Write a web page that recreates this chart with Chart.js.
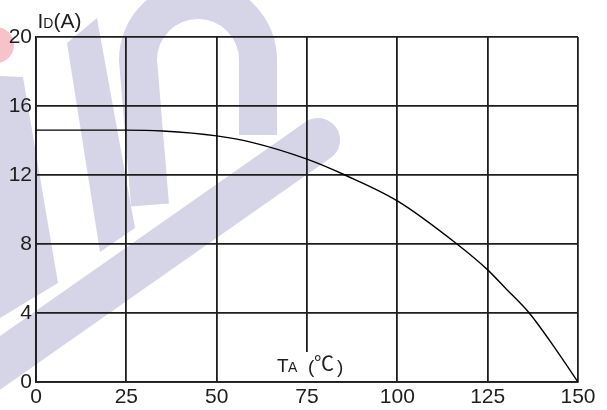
<!DOCTYPE html>
<html>
<head>
<meta charset="utf-8">
<script src="https://cdn.jsdelivr.net/npm/chart.js@4"></script>
<style>
  body { margin: 0; background: #fff; }
  #box { width: 607px; height: 410px; }
</style>
</head>
<body>
<div id="box"><canvas id="derating-chart"></canvas></div>
<script>
// ambient temperature (C) and drain current (A)
const tempC = [0, 25, 35, 50, 60, 75, 85.5, 100, 116.5, 125, 130, 136.5, 144, 150];
const currentA = [14.6, 14.6, 14.55, 14.27, 13.88, 12.92, 12.0, 10.5, 8.0, 6.5, 5.42, 4.0, 1.85, 0];
const xTicks = [0, 25, 50, 75, 100, 125, 150];
const yTicks = [0, 4, 8, 12, 16, 20];

const ink = "#1e1e1e";
const lav = "#d5d5e7";
const sans = "'Liberation Sans', Arial, sans-serif";

// faint logo in the background
const watermark = {
    id: "watermark",
    beforeDraw(chart) {
        const ctx = chart.ctx;
        ctx.save();
        ctx.fillStyle = "#fff";
        ctx.fillRect(0, 0, chart.width, chart.height);

        ctx.fillStyle = "#f6c3ca";
        ctx.beginPath();
        ctx.arc(-4, 45, 18, 0, Math.PI * 2);
        ctx.fill();

        ctx.fillStyle = lav;
        ctx.beginPath();
        ctx.moveTo(-20, 75); ctx.lineTo(23, 77); ctx.lineTo(58, 283); ctx.lineTo(-20, 330);
        ctx.closePath();
        ctx.fill();

        ctx.beginPath();
        ctx.moveTo(67, 43); ctx.lineTo(97, 18); ctx.lineTo(135, 228); ctx.lineTo(100, 252);
        ctx.closePath();
        ctx.fill();

        ctx.strokeStyle = lav;
        ctx.lineWidth = 44;
        ctx.lineCap = "round";
        ctx.beginPath();
        ctx.moveTo(-40, 391); ctx.lineTo(318, 140);
        ctx.stroke();

        ctx.lineWidth = 38;
        ctx.lineCap = "butt";
        ctx.beginPath();
        ctx.moveTo(150, 205);
        ctx.lineTo(138, 60);
        ctx.arc(198, 60, 60, Math.PI, Math.PI * 2);
        ctx.lineTo(258, 135);
        ctx.stroke();
        ctx.restore();
    }
};

// axis titles with small subscript letters
const axisTitles = {
    id: "axisTitles",
    afterDatasetsDraw(chart) {
        const ctx = chart.ctx;
        const x = chart.scales.x;
        const area = chart.chartArea;
        ctx.save();
        ctx.fillStyle = ink;
        ctx.textBaseline = "alphabetic";
        ctx.textAlign = "left";

        let px = area.left + 1.5;
        ctx.font = "21px " + sans;
        ctx.fillText("I", px, 28);
        px += ctx.measureText("I").width;
        ctx.font = "14px " + sans;
        ctx.fillText("D", px, 28);
        px += ctx.measureText("D").width;
        ctx.font = "21px " + sans;
        ctx.fillText("(A)", px, 28);

        // white patch under the x title
        const cx = x.getPixelForValue(75);
        ctx.fillStyle = "#fff";
        ctx.fillRect(cx - 32, 352, 70, area.bottom - 353);
        ctx.fillStyle = ink;
        ctx.font = "19px " + sans;
        ctx.fillText("T", cx - 30, 372);
        ctx.font = "14px " + sans;
        ctx.fillText("A", cx - 19, 372);
        ctx.font = "19px " + sans;
        ctx.fillText("(", cx + 1, 373);
        ctx.fillText(")", cx + 30, 373);
        ctx.font = "20px 'Noto Sans CJK SC', sans-serif";
        ctx.fillText("\u2103", cx + 7, 371);
        ctx.restore();
    }
};

const ctxDerating = document.querySelector("#derating-chart").getContext("2d");

const deratingChart = new Chart(ctxDerating, {
    type: "line",
    data: {
        datasets: [{
            data: tempC.map((t, i) => ({ x: t, y: currentA[i] })),
            borderColor: "#000",
            borderWidth: 1.4,
            pointRadius: 0,
            cubicInterpolationMode: "monotone",
            fill: false
        }]
    },
    options: {
        responsive: true,
        maintainAspectRatio: false,
        animation: false,
        layout: { padding: { left: 0, top: 37, right: 29, bottom: 0 } },
        plugins: {
            legend: { display: false },
            tooltip: { enabled: false }
        },
        scales: {
            x: {
                type: "linear",
                min: 0,
                max: 150,
                afterFit: s => { s.height = 28; },
                afterBuildTicks: s => { s.ticks = xTicks.map(v => ({ value: v })); },
                grid: { color: ink, lineWidth: 1.8, drawTicks: false },
                border: { color: ink, width: 1.8 },
                ticks: {
                    padding: 3,
                    color: ink,
                    font: { family: sans, size: 21 },
                    maxRotation: 0
                }
            },
            y: {
                min: 0,
                max: 20,
                afterFit: s => { s.width = 36; },
                afterBuildTicks: s => { s.ticks = yTicks.map(v => ({ value: v })); },
                grid: { color: ink, lineWidth: 1.8, drawTicks: false },
                border: { color: ink, width: 1.8 },
                ticks: {
                    padding: 4,
                    color: ink,
                    font: { family: sans, size: 21 }
                }
            }
        }
    },
    plugins: [watermark, axisTitles]
});
</script>
</body>
</html>
